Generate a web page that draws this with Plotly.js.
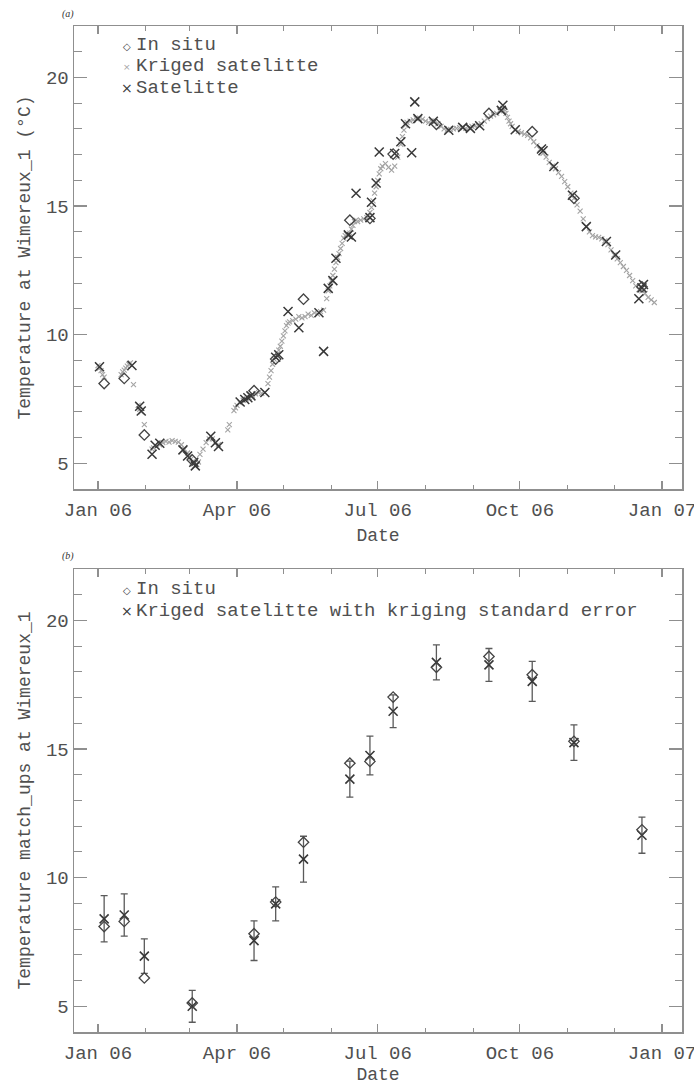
<!DOCTYPE html>
<html>
<head>
<meta charset="utf-8">
<script src="https://cdn.plot.ly/plotly-3.0.1.min.js"></script>
<style>
  html, body { margin: 0; padding: 0; background: #ffffff; overflow: hidden; }
  #chart { width: 694px; height: 1085px; }
</style>
</head>
<body>
<div id="chart"></div>
<script>
// Sea surface temperature at Wimereux_1 during 2006.
// Dates are stored as day offsets from 1 January 2006.

// Kriged satellite series (panel a)
const krigedDay = [0, 1, 2, 3, 4, 15, 16, 17, 18, 19, 20, 21, 23, 26, 27, 28, 30,
  35, 36, 38, 40, 42, 44, 46, 48, 50, 52, 54, 56, 58, 59, 60, 61, 62, 63, 64, 65, 66, 68, 70, 72, 74, 76, 78,
  84, 85, 88, 89, 90, 92, 94, 96, 98, 100, 102, 104, 106, 108,
  110, 111, 112, 113, 114, 115, 116, 117, 118, 119, 120, 121, 122, 123, 124, 126, 128, 130, 132, 134, 136, 138, 140, 142, 144, 146,
  148, 149, 150, 151, 152, 153, 154, 155, 156, 157, 158, 159, 160, 161, 162, 163, 164, 165, 166, 167, 168, 170, 172, 174,
  176, 177, 178, 179, 180, 181, 182, 183, 184, 186, 188, 190, 192, 194, 196, 197, 198, 199, 200, 202, 204, 206, 208,
  210, 212, 214, 216, 218, 220, 222, 224, 226, 228, 230, 232, 234, 236, 238, 240, 242, 244, 246, 248, 250, 252, 254, 256, 258,
  260, 262, 263, 264, 265, 266, 267, 268, 270, 272, 274, 276, 278, 280, 282, 284, 286, 288, 290, 292, 294, 296, 298,
  300, 302, 304, 306, 308, 310, 312, 314, 316, 318, 320, 322, 324, 326, 328, 330, 332, 334, 336, 338, 340, 342, 344, 346, 348,
  350, 352, 354, 356, 358, 360];
const krigedTemp = [8.80, 8.70, 8.60, 8.45, 8.35, 8.45, 8.55, 8.62, 8.70, 8.78, 8.85, 8.90, 8.06, 7.25, 7.10, 7.00, 6.50,
  5.55, 5.60, 5.65, 5.72, 5.80, 5.85, 5.82, 5.88, 5.85, 5.82, 5.72, 5.55, 5.40, 5.25, 5.15, 5.05, 4.98, 4.92, 4.95, 5.05, 5.35, 5.55, 5.80, 5.95, 5.95, 5.80, 5.72,
  6.30, 6.50, 7.05, 7.15, 7.25, 7.35, 7.45, 7.50, 7.55, 7.62, 7.70, 7.75, 7.72, 7.75,
  8.10, 8.35, 8.60, 8.85, 9.05, 9.15, 9.25, 9.40, 9.55, 9.75, 9.95, 10.15, 10.35, 10.45, 10.50, 10.55, 10.60, 10.70, 10.65, 10.70, 10.80, 10.75, 10.85, 10.80, 10.90, 10.95,
  11.40, 11.70, 11.90, 12.10, 12.30, 12.55, 12.80, 13.00, 13.15, 13.35, 13.55, 13.75, 13.85, 13.90, 13.85, 13.95, 14.10, 14.25, 14.40, 14.45, 14.40, 14.45, 14.50, 14.55,
  14.75, 14.95, 15.20, 15.50, 15.75, 16.00, 16.25, 16.45, 16.55, 16.65, 16.50, 16.40, 16.55, 16.90, 17.40, 17.70, 17.95, 18.15, 18.25, 18.30, 18.35, 18.40, 18.42,
  18.38, 18.30, 18.25, 18.30, 18.30, 18.20, 18.10, 18.00, 17.95, 17.98, 18.00, 18.02, 18.05, 18.05, 18.02, 18.05, 18.10, 18.12, 18.15, 18.20, 18.30, 18.40, 18.50, 18.55, 18.60,
  18.70, 18.80, 18.75, 18.60, 18.45, 18.30, 18.20, 18.10, 17.95, 17.90, 17.85, 17.80, 17.75, 17.65, 17.50, 17.35, 17.20, 17.05, 16.90, 16.70, 16.55, 16.45, 16.30,
  16.15, 15.95, 15.75, 15.50, 15.30, 15.05, 14.80, 14.50, 14.20, 14.00, 13.85, 13.80, 13.78, 13.72, 13.65, 13.50, 13.30, 13.10, 12.95, 12.80, 12.65, 12.50, 12.30, 12.10, 11.90,
  11.75, 11.70, 11.60, 11.45, 11.35, 11.25];

// Satellite observations (panel a)
const satelliteDay = [1, 22, 27, 28, 35, 37, 40, 55, 58, 62, 63, 73, 76, 78, 92, 95, 97, 99, 108, 115, 117,
  123, 130, 143, 146, 149, 152, 154, 162, 164, 167, 176, 177, 180, 182, 192, 196, 199, 203, 205, 207,
  217, 227, 236, 241, 247, 261, 262, 270, 287, 288, 295, 307, 316, 329, 335, 350, 352, 353];
const satelliteTemp = [8.75, 8.80, 7.22, 7.03, 5.35, 5.70, 5.78, 5.52, 5.28, 5.04, 4.90, 6.05, 5.80, 5.65, 7.38, 7.48, 7.55, 7.62, 7.75, 9.12, 9.22,
  10.90, 10.27, 10.85, 9.35, 11.80, 12.10, 12.97, 13.88, 13.80, 15.50, 14.55, 15.15, 15.90, 17.10, 17.04, 17.50, 18.20, 17.07, 19.05, 18.40,
  18.30, 17.95, 18.06, 18.02, 18.12, 18.72, 18.92, 17.97, 17.22, 17.15, 16.54, 15.42, 14.20, 13.62, 13.10, 11.40, 11.82, 11.95];

// In situ measurements and the kriged match-ups on the same days (panels a and b)
const matchDay = [4, 17, 30, 61, 101, 115, 133, 163, 176, 191, 219, 253, 281, 308, 352];
const inSituTemp = [8.10, 8.30, 6.10, 5.13, 7.82, 9.05, 11.38, 14.45, 14.52, 17.02, 18.18, 18.60, 17.89, 15.30, 11.86];
const matchKrigedTemp = [8.40, 8.55, 6.95, 5.00, 7.55, 8.98, 10.72, 13.83, 14.75, 16.47, 18.37, 18.27, 17.63, 15.25, 11.65];
const krigingStdError = [0.90, 0.82, 0.67, 0.62, 0.77, 0.66, 0.89, 0.70, 0.75, 0.64, 0.68, 0.64, 0.78, 0.69, 0.70];

// Axis tick labels
const yTickVals = [5, 10, 15, 20];
const yTickText = ['5', '10', '15', '20'];

// Day offset -> ISO date string
const YEAR_START = Date.UTC(2006, 0, 1);
function toDate(d) {
  return new Date(YEAR_START + d * 86400000).toISOString().slice(0, 10);
}

const W = 694, H = 1085;
const M = { l: 74, r: 12, t: 26, b: 53 };
const plotW = W - M.l - M.r, plotH = H - M.t - M.b;
// pixel position -> paper fraction
const px = x => (x - M.l) / plotW;
const py = y => (H - M.b - y) / plotH;

const AXIS = '#8f8f8f';
const TEXT = '#505050';
const MONO = 'Liberation Mono, Courier New, monospace';

const KRIGED_GREY = '#a4a4a4';
const DARK = '#383838';

function xAxis(anchor) {
  return {
    type: 'date',
    range: ['2005-12-16 12:00', '2007-01-13 22:00'],
    tick0: '2006-01-01', dtick: 'M3', tickformat: '%b %y',
    ticks: 'inside', ticklen: 8, tickwidth: 1.2, tickcolor: AXIS,
    minor: { tick0: '2006-01-01', dtick: 'M1', ticks: 'inside', ticklen: 4.5, tickwidth: 1, tickcolor: AXIS, showgrid: false },
    showline: true, linecolor: AXIS, linewidth: 1.5, mirror: 'ticks',
    showgrid: false, zeroline: false,
    tickfont: { family: MONO, size: 19, color: TEXT },
    ticklabelstandoff: 3,
    ticklabeloverflow: 'allow',
    title: { text: 'Date', font: { family: MONO, size: 18, color: TEXT }, standoff: 7 },
    anchor: anchor
  };
}

function yAxis(title, domain, anchor) {
  return {
    range: [4, 22],
    tickmode: 'array', tickvals: yTickVals, ticktext: yTickText,
    ticks: 'inside', ticklen: 13, tickwidth: 1.2, tickcolor: AXIS,
    minor: { tick0: 0, dtick: 1, ticks: 'inside', ticklen: 7.5, tickwidth: 1, tickcolor: AXIS, showgrid: false },
    showline: true, linecolor: AXIS, linewidth: 1.5, mirror: 'ticks',
    showgrid: false, zeroline: false,
    tickfont: { family: MONO, size: 19, color: TEXT },
    title: { text: title, font: { family: MONO, size: 18, color: TEXT }, standoff: 10 },
    domain: domain, anchor: anchor
  };
}

const traces = [
  {
    name: 'Kriged satelitte',
    x: krigedDay.map(toDate), y: krigedTemp,
    xaxis: 'x', yaxis: 'y', type: 'scatter', mode: 'markers',
    marker: { symbol: 'x-thin-open', size: 5, color: KRIGED_GREY, line: { color: KRIGED_GREY, width: 1.1 } }
  },
  {
    name: 'Satelitte',
    x: satelliteDay.map(toDate), y: satelliteTemp,
    xaxis: 'x', yaxis: 'y', type: 'scatter', mode: 'markers',
    marker: { symbol: 'x-thin-open', size: 9, color: DARK, line: { color: DARK, width: 1.5 } }
  },
  {
    name: 'In situ',
    x: matchDay.map(toDate), y: inSituTemp,
    xaxis: 'x', yaxis: 'y', type: 'scatter', mode: 'markers',
    marker: { symbol: 'diamond-open', size: 8, color: '#444444', line: { color: '#444444', width: 1.3 } }
  },
  {
    name: 'Kriged satelitte with kriging standard error',
    x: matchDay.map(toDate), y: matchKrigedTemp,
    xaxis: 'x2', yaxis: 'y2', type: 'scatter', mode: 'markers',
    error_y: { type: 'data', array: krigingStdError, visible: true, color: '#5a5a5a', thickness: 1.3, width: 3.5 },
    marker: { symbol: 'x-thin-open', size: 9, color: DARK, line: { color: DARK, width: 1.6 } }
  },
  {
    name: 'In situ',
    x: matchDay.map(toDate), y: inSituTemp,
    xaxis: 'x2', yaxis: 'y2', type: 'scatter', mode: 'markers',
    marker: { symbol: 'diamond-open', size: 8, color: '#444444', line: { color: '#444444', width: 1.3 } }
  }
];

function label(text, x, y) {
  return {
    text: text, xref: 'paper', yref: 'paper', x: px(x), y: py(y),
    xanchor: 'left', yanchor: 'middle', showarrow: false, borderpad: 0,
    font: { family: MONO, size: 19, color: TEXT }
  };
}
function symbol(ch, x, y, size, color) {
  return {
    text: ch, xref: 'paper', yref: 'paper', x: px(x), y: py(y),
    xanchor: 'center', yanchor: 'middle', showarrow: false,
    font: { family: 'DejaVu Sans, sans-serif', size: size, color: color }
  };
}

const annotations = [
  // panel tags
  { text: '<i>(a)</i>', xref: 'paper', yref: 'paper', x: px(68), y: py(14), xanchor: 'center', yanchor: 'middle',
    showarrow: false, font: { family: 'Liberation Serif, serif', size: 10, color: '#333' } },
  { text: '<i>(b)</i>', xref: 'paper', yref: 'paper', x: px(68), y: py(556), xanchor: 'center', yanchor: 'middle',
    showarrow: false, font: { family: 'Liberation Serif, serif', size: 10, color: '#333' } },
  // key, panel a
  symbol('◇', 127, 46, 10, '#444'),
  label('In situ', 135, 45),
  symbol('×', 127, 67, 9, KRIGED_GREY),
  label('Kriged satelitte', 135, 66),
  symbol('×', 127, 88, 14, DARK),
  label('Satelitte', 135, 88),
  // key, panel b
  symbol('◇', 127, 590, 10, '#444'),
  label('In situ', 135, 589),
  symbol('×', 127, 611, 14, DARK),
  label('Kriged satelitte with kriging standard error', 135, 611)
];

const layout = {
  width: W, height: H,
  margin: M,
  paper_bgcolor: '#ffffff', plot_bgcolor: '#ffffff',
  showlegend: false,
  xaxis: xAxis('y'),
  yaxis: yAxis('Temperature at Wimereux_1 (°C)', [py(489), 1], 'x'),
  xaxis2: xAxis('y2'),
  yaxis2: yAxis('Temperature match_ups at Wimereux_1', [0, py(569)], 'x2'),
  annotations: annotations
};

Plotly.newPlot('chart', traces, layout, { displayModeBar: false, staticPlot: true });
</script>
</body>
</html>
